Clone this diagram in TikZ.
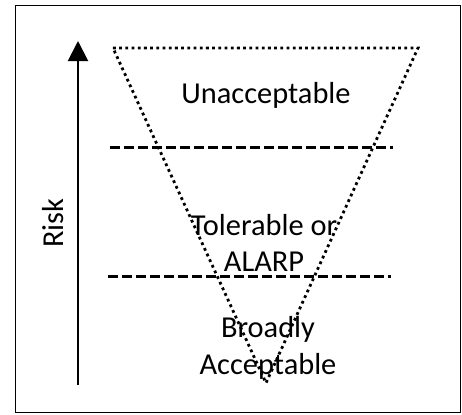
\documentclass[tikz,border=0pt]{standalone}
\usepackage{fontspec}
\setmainfont{Carlito}
\usetikzlibrary{arrows.meta}

\begin{document}
\begin{tikzpicture}[x=0.5pt,y=-0.5pt,>={Triangle[length=10pt,width=10pt]},semithick]
          \tikzstyle{level}=[align=center,font=\fontsize{15.2}{18.4}\selectfont]
          \tikzstyle{border}=[line width=1.4pt,dash pattern=on 1.4pt off 1.7pt]
          \tikzstyle{cut}=[line width=1.5pt,dash pattern=on 4.8pt off 2.2pt]
          \useasboundingbox (0,0) rectangle (462,414);
          \draw[line width=0.5pt] (15.5,5.5) rectangle (460.5,412.5);

          % triangle corners
          \coordinate (TL) at (113,48);
          \coordinate (TR) at (418,48);
          \coordinate (BT) at (266,383);
          \draw[border] (TL) -- (TR) -- (BT) -- cycle;

          % band limits
          \coordinate (U1) at (110,147);
          \coordinate (U2) at (393,147);
          \coordinate (L1) at (108,276);
          \coordinate (L2) at (391,276);
          \draw[cut] (U1) -- (U2);
          \draw[cut] (L1) -- (L2);

          % risk axis
          \coordinate (A0) at (78,385);
          \coordinate (A1) at (78,41);
          \draw[->,line width=1pt] (A0) -- (A1);
          \node[level,rotate=90] (risk) at (53,223) {Risk};

          \node[level] (unacc) at (266,95)  {Unacceptable};
          \node[level] (alarp) at (264,243) {Tolerable or\\ALARP};
          \node[level] (broad) at (268,348) {Broadly\\Acceptable};
\end{tikzpicture}
\end{document}
